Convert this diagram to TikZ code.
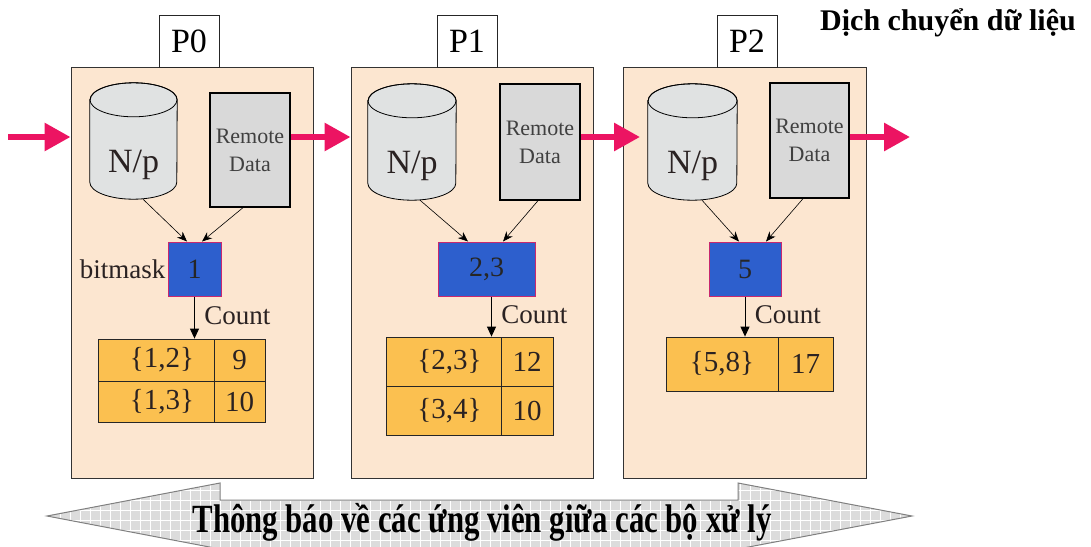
\documentclass[tikz,border=0pt]{standalone}
\usepackage{fontspec}
\setmainfont{Liberation Serif}
\usetikzlibrary{arrows.meta,calc}

\definecolor{panelfill}{HTML}{FCE6D0}
\definecolor{cylfill}{HTML}{E0E2E2}
\definecolor{remotefill}{HTML}{D9D9D9}
\definecolor{bmfill}{HTML}{2D5FCD}
\definecolor{bmborder}{HTML}{C8286E}
\definecolor{tabfill}{HTML}{FBC050}
\definecolor{flowpink}{HTML}{EC1462}
\definecolor{arrowfill}{HTML}{DCDCDC}
\definecolor{inktext}{HTML}{2A2222}

% cylinder drawn inside the box of a named node: #1 node, #2 half width
\newcommand\drawdisk[2]{%
  \path[draw=black, line width=0.8pt, fill=cylfill]
    ([yshift=-17pt]#1.north west) -- ([yshift=17pt]#1.south west)
    arc[start angle=180, end angle=360, x radius=#2, y radius=17pt]
    -- ([yshift=-17pt]#1.north east)
    arc[start angle=0, end angle=180, x radius=#2, y radius=17pt] -- cycle;
  \draw[line width=0.8pt] ([yshift=-17pt]#1.north) ellipse[x radius=#2, y radius=17pt];
}

\begin{document}
\begin{tikzpicture}[x=1pt, y=-1pt,
  panel/.style={draw=black!80, line width=1pt, fill=panelfill, inner sep=0pt},
  plabel/.style={draw=black!85, line width=1pt, fill=white, inner sep=0pt,
    minimum width=60pt, minimum height=52pt, font=\fontsize{34}{40}\selectfont},
  diskbox/.style={inner sep=0pt},
  disktext/.style={anchor=base, inner sep=0pt, text=inktext, font=\fontsize{34}{40}\selectfont},
  remote/.style={draw=black, line width=1.3pt, fill=remotefill, inner sep=0pt,
    align=center, text=black!75, font=\fontsize{22}{28}\selectfont},
  bitbox/.style={draw=bmborder, line width=1pt, fill=bmfill, inner sep=0pt,
    minimum height=54pt, text=black!85, font=\fontsize{28}{32}\selectfont},
  cell/.style={draw=black!85, line width=0.8pt, fill=tabfill, inner sep=0pt,
    text=inktext, font=\fontsize{29}{32}\selectfont},
  small/.style={text=inktext, font=\fontsize{27}{30}\selectfont},
  feed/.style={line width=0.6pt, -{Stealth[length=10pt,width=8pt]}},
  tally/.style={line width=1pt, -{Triangle[length=10pt,width=9pt]}},
  flow/.style={draw=flowpink, line width=6pt, -{Triangle[length=26pt,width=27pt]}}
]
\useasboundingbox (0,0) rectangle (1091,546);

% ---- processor panels and their labels ----
\node[panel, minimum width=242pt, minimum height=411pt] (pan0) at (192,272.5) {};
\node[panel, minimum width=242pt, minimum height=411pt] (pan1) at (472,272.5) {};
\node[panel, minimum width=243pt, minimum height=411pt] (pan2) at (744.5,272.5) {};
\node[plabel] (p0) at (189,41) {P0};
\node[plabel] (p1) at (467,41) {P1};
\node[plabel] (p2) at (747,41) {P2};

% ---- local data (cylinders) ----
\node[diskbox, minimum width=87pt, minimum height=116pt] (cyl0) at (133.5,141) {};
\node[diskbox, minimum width=88pt, minimum height=116pt] (cyl1) at (412,142) {};
\node[diskbox, minimum width=89pt, minimum height=116pt] (cyl2) at (692.5,142) {};
\drawdisk{cyl0}{43.5pt}
\drawdisk{cyl1}{44pt}
\drawdisk{cyl2}{44.5pt}
\node[disktext] at ([yshift=-31pt]cyl0.center) {N/p};
\node[disktext] at ([yshift=-31pt]cyl1.center) {N/p};
\node[disktext] at ([yshift=-31pt]cyl2.center) {N/p};

% ---- remote data ----
\node[remote, minimum width=80pt, minimum height=114pt] (rd0) at (250,150) {Remote\\Data};
\node[remote, minimum width=80pt, minimum height=116pt] (rd1) at (540,142) {Remote\\Data};
\node[remote, minimum width=79pt, minimum height=115pt] (rd2) at (809.5,140.5) {Remote\\Data};

% ---- bitmasks ----
\node[bitbox, minimum width=53pt] (bm0) at (194.5,269) {1};
\node[bitbox, minimum width=97pt] (bm1) at (486.5,269) {2,3};
\node[bitbox, minimum width=72pt] (bm2) at (745,269) {5};
\node[small, anchor=east, inner sep=2pt] (bmlab) at (bm0.west) {bitmask};

% ---- count tables ----
\node[cell, minimum width=116pt, minimum height=42pt] (t0a) at (156,360) {\hspace*{12pt}\{1,2\}};
\node[cell, minimum width=51pt, minimum height=42pt] (t0b) at (239.5,360) {9};
\node[cell, minimum width=116pt, minimum height=41pt] (t0c) at (156,401.5) {\hspace*{12pt}\{1,3\}};
\node[cell, minimum width=51pt, minimum height=41pt] (t0d) at (239.5,401.5) {10};

\node[cell, minimum width=115pt, minimum height=49pt] (t1a) at (443.5,361.5) {\hspace*{12pt}\{2,3\}};
\node[cell, minimum width=52pt, minimum height=49pt] (t1b) at (527,361.5) {12};
\node[cell, minimum width=115pt, minimum height=49pt] (t1c) at (443.5,410.5) {\hspace*{12pt}\{3,4\}};
\node[cell, minimum width=52pt, minimum height=49pt] (t1d) at (527,410.5) {10};

\node[cell, minimum width=112pt, minimum height=54pt] (t2a) at (722,364) {\{5,8\}};
\node[cell, minimum width=55pt, minimum height=54pt] (t2b) at (805.5,364) {17};

% ---- data into the bitmask ----
\draw[feed] ([xshift=9.5pt]cyl0.south) -- ([xshift=-7.5pt]bm0.north);
\draw[feed] ([xshift=-7pt]rd0.south) -- ([xshift=7.5pt]bm0.north);
\draw[feed] ([xshift=8pt]cyl1.south) -- ([xshift=-18.5pt]bm1.north);
\draw[feed] ([xshift=-2pt]rd1.south) -- ([xshift=16.5pt]bm1.north);
\draw[feed] ([xshift=9.5pt]cyl2.south) -- ([xshift=-6pt]bm2.north);
\draw[feed] ([xshift=-6.5pt]rd2.south) -- ([xshift=21pt]bm2.north);

% ---- bitmask to counts ----
\draw[tally] (bm0.south) -- (bm0.south |- t0a.north) node[small, pos=0.45, anchor=west, xshift=6pt] {Count};
\draw[tally] ([xshift=5pt]bm1.south) -- ([xshift=5pt]bm1.south |- t1a.north) node[small, pos=0.45, anchor=west, xshift=6pt] {Count};
\draw[tally] (bm2.south) -- (bm2.south |- t2a.north) node[small, pos=0.45, anchor=west, xshift=6pt] {Count};

% ---- data movement between processors ----
\coordinate (in0) at (8,137);
\coordinate (out3) at (910,137);
\coordinate (tip2) at (640,137);
\draw[flow] (in0) -- (pan0.west |- in0);
\draw[flow] (rd0.east |- in0) -- (pan1.west |- in0);
\draw[flow] (rd1.east |- in0) -- (tip2);
\draw[flow] (rd2.east |- in0) -- (out3);

\node[anchor=base west, inner sep=0pt, font=\bfseries\fontsize{30}{34}\selectfont] (title) at (820,30) {Dịch chuyển dữ liệu};

% ---- candidate exchange (double arrow) ----
\def\bigarrow{(47,516) -- (220,483) -- (220,500) -- (738,500) -- (738,483) -- (912,516) -- (738,549) -- (220,549) -- cycle}
\fill[arrowfill] \bigarrow;
\begin{scope}
  \clip \bigarrow;
  \draw[white, line width=0.9pt] (40,470) grid[step=10pt] (920,560);
\end{scope}
\draw[gray, line width=1pt] \bigarrow;
\node[anchor=base, inner sep=0pt, font=\bfseries\fontsize{40}{44}\selectfont] (msg) at (482,532)
  {\scalebox{0.77}[1]{Thông báo về các ứng viên giữa các bộ xử lý}};
\end{tikzpicture}
\end{document}
